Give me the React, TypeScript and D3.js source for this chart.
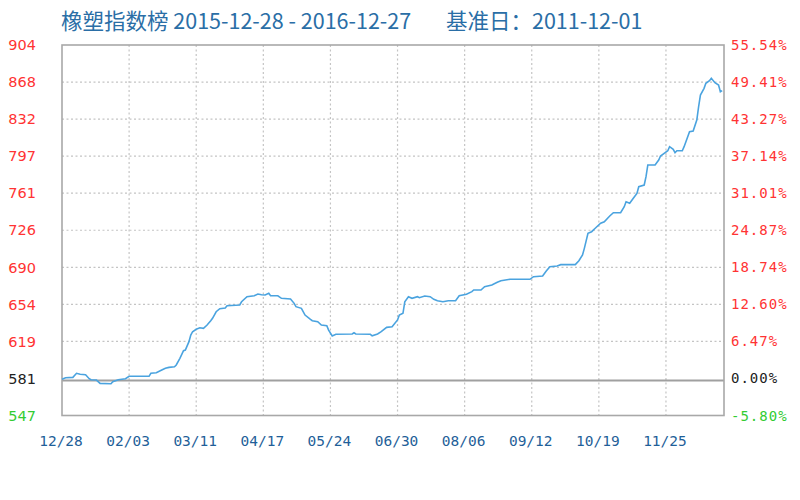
import React from "react";
import * as d3 from "d3";

const dates: string[] = [
  "2015-12-28","2015-12-30","2016-01-03","2016-01-05","2016-01-07","2016-01-10","2016-01-12","2016-01-13","2016-01-16","2016-01-18",
  "2016-01-24","2016-01-25","2016-01-28","2016-02-01","2016-02-03","2016-02-14","2016-02-15","2016-02-18","2016-02-21","2016-02-23",
  "2016-02-25","2016-02-28","2016-02-29","2016-03-02","2016-03-04","2016-03-05","2016-03-07","2016-03-08","2016-03-09","2016-03-11",
  "2016-03-13","2016-03-15","2016-03-17","2016-03-19","2016-03-20","2016-03-22","2016-03-24","2016-03-27","2016-03-28","2016-04-04",
  "2016-04-05","2016-04-08","2016-04-12","2016-04-14","2016-04-16","2016-04-18","2016-04-20","2016-04-21","2016-04-25","2016-04-27",
  "2016-05-02","2016-05-04","2016-05-05","2016-05-08","2016-05-10","2016-05-13","2016-05-14","2016-05-17","2016-05-19","2016-05-22",
  "2016-05-23","2016-05-25","2016-05-27","2016-06-05","2016-06-06","2016-06-07","2016-06-15","2016-06-16","2016-06-19","2016-06-21",
  "2016-06-24","2016-06-27","2016-06-30","2016-07-01","2016-07-03","2016-07-04","2016-07-06","2016-07-08","2016-07-11","2016-07-12",
  "2016-07-15","2016-07-18","2016-07-20","2016-07-22","2016-07-25","2016-07-28","2016-08-01","2016-08-03","2016-08-07","2016-08-10",
  "2016-08-11","2016-08-15","2016-08-17","2016-08-21","2016-08-24","2016-08-26","2016-08-31","2016-09-11","2016-09-13","2016-09-18",
  "2016-09-20","2016-09-22","2016-09-26","2016-09-28","2016-10-06","2016-10-08","2016-10-10","2016-10-11","2016-10-13","2016-10-15",
  "2016-10-17","2016-10-20","2016-10-22","2016-10-25","2016-10-27","2016-10-31","2016-11-02","2016-11-03","2016-11-05","2016-11-07",
  "2016-11-09","2016-11-10","2016-11-13","2016-11-14","2016-11-15","2016-11-19","2016-11-21","2016-11-22","2016-11-24","2016-11-26",
  "2016-11-27","2016-11-29","2016-11-30","2016-12-01","2016-12-04","2016-12-05","2016-12-06","2016-12-08","2016-12-10","2016-12-12",
  "2016-12-13","2016-12-14","2016-12-16","2016-12-17","2016-12-19","2016-12-20","2016-12-22","2016-12-24","2016-12-25","2016-12-26",
];

const values: number[] = [
  582.1, 583.6, 584.0, 587.9, 586.9, 586.5, 582.7, 581.7, 581.4, 578.2,
  577.9, 579.8, 581.7, 582.7, 585.0, 585.0, 587.9, 588.4, 591.0, 592.7,
  593.6, 594.2, 595.9, 602.3, 609.6, 610.3, 618.3, 624.7, 627.9, 630.2,
  631.7, 631.2, 634.3, 638.5, 640.8, 647.1, 650.0, 650.7, 652.9, 653.6,
  656.7, 661.6, 662.5, 664.2, 663.5, 663.2, 664.8, 662.5, 662.5, 660.0,
  659.4, 655.2, 652.0, 650.4, 643.9, 639.8, 638.5, 637.5, 634.3, 633.7,
  629.5, 623.8, 625.4, 625.7, 626.9, 625.7, 625.4, 624.0, 625.7, 627.9,
  632.1, 632.7, 639.2, 643.9, 645.6, 656.7, 661.6, 660.0, 661.6, 660.6,
  662.2, 661.6, 659.1, 657.7, 656.7, 657.7, 657.7, 662.5, 663.9, 666.4,
  668.0, 668.0, 671.2, 672.8, 675.4, 676.9, 678.3, 678.3, 680.8, 681.5,
  686.3, 690.4, 691.1, 692.4, 692.4, 696.2, 701.7, 708.1, 722.6, 724.1,
  727.4, 732.2, 733.7, 739.2, 742.4, 742.4, 748.1, 752.9, 751.4, 756.2,
  761.0, 767.4, 769.0, 777.0, 788.3, 788.3, 793.1, 796.9, 799.5, 802.0,
  805.9, 803.4, 800.1, 802.0, 802.0, 805.9, 810.7, 820.3, 821.0, 831.5,
  844.3, 855.6, 862.0, 866.9, 869.4, 871.7, 867.4, 865.2, 858.8, 859.8,
];

const leftTicks: number[] = [547, 581, 619, 654, 690, 726, 761, 797, 832, 868, 904];
const rightTickLabels: string[] = ["-5.80%", "0.00%", "6.47%", "12.60%", "18.74%", "24.87%", "31.01%", "37.14%", "43.27%", "49.41%", "55.54%"];
const xTickDates: string[] = ["2015-12-28", "2016-02-03", "2016-03-11", "2016-04-17", "2016-05-24", "2016-06-30", "2016-08-06", "2016-09-12", "2016-10-19", "2016-11-25"];
const baseValue = 581;
const titleMain = "橡塑指数榜 2015-12-28 - 2016-12-27";
const titleBase = "基准日：2011-12-01";
const xStart = "2015-12-28";
const xEnd = "2016-12-27";

const W = 800, H = 500;
const M = { left: 62, right: 724, top: 45, bottom: 415.5 };

export default function App() {
  const parse = d3.timeParse("%Y-%m-%d");
  const fmt = d3.timeFormat("%m/%d");
  const x = d3.scaleTime().domain([parse(xStart)!, parse(xEnd)!]).range([M.left, M.right]);
  const y = d3.scaleLinear().domain([547.3, 903.7]).range([M.bottom, M.top]);
  const tickY = (i: number) => M.bottom - (i * (M.bottom - M.top)) / (leftTicks.length - 1);
  const pts = dates.map((d, i) => ({ d: parse(d)!, v: values[i] }));
  const line = d3.line<{ d: Date; v: number }>().x((p) => x(p.d)).y((p) => y(p.v));
  const colorFor = (i: number) => (i === 0 ? "#33cc33" : leftTicks[i] === baseValue ? "#222" : "#ff3333");

  return (
    <svg width={W} height={H} style={{ position: "absolute", left: 0, top: 0, background: "#fff" }}>
      <text y={29} fontFamily="'Noto Sans CJK SC', 'Noto Sans', sans-serif" fontSize={21.5} fill="#2a6ea6">
        <tspan x={61}>{titleMain}</tspan>
        <tspan x={446}>{titleBase}</tspan>
      </text>
      {leftTicks.map((t, i) =>
        i > 0 && i < leftTicks.length - 1 && t !== baseValue ? (
          <line key={"h" + i} x1={M.left} x2={M.right} y1={tickY(i)} y2={tickY(i)} stroke="#c4c4c4" strokeWidth={1.2} strokeDasharray="2,2.5" />
        ) : null
      )}
      {xTickDates.map((d, i) =>
        i > 0 ? (
          <line key={"v" + i} x1={x(parse(d)!)} x2={x(parse(d)!)} y1={M.top} y2={M.bottom} stroke="#c4c4c4" strokeWidth={1.2} strokeDasharray="2,2.5" />
        ) : null
      )}
      <line x1={M.left} x2={M.right} y1={y(baseValue)} y2={y(baseValue)} stroke="#a0a0a0" strokeWidth={2} />
      <rect x={M.left} y={M.top} width={M.right - M.left} height={M.bottom - M.top} fill="none" stroke="#a8a8a8" strokeWidth={1.6} />
      <path d={line(pts) || ""} fill="none" stroke="#4aa3df" strokeWidth={1.6} />
      {leftTicks.map((t, i) => (
        <text key={"l" + i} x={36} y={tickY(i)} dy="0.36em" textAnchor="end" fontFamily="'DejaVu Sans', sans-serif" fontSize={14.5} fill={colorFor(i)}>
          {t}
        </text>
      ))}
      {rightTickLabels.map((s, i) => (
        <text key={"r" + i} x={731} y={tickY(i)} dy="0.36em" fontFamily="'DejaVu Sans Mono', monospace" fontSize={14} letterSpacing={1} fill={colorFor(i)}>
          {s}
        </text>
      ))}
      {xTickDates.map((d, i) => (
        <text key={"b" + i} x={x(parse(d)!) - 1} y={446} textAnchor="middle" fontFamily="'DejaVu Sans Mono', monospace" fontSize={14.5} fill="#1f5f99">
          {fmt(parse(d)!)}
        </text>
      ))}
    </svg>
  );
}
